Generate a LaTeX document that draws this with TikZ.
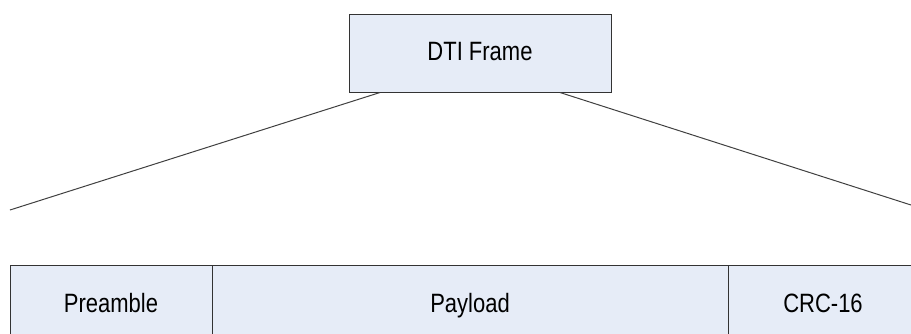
\documentclass[tikz,border=0pt]{standalone}
\usepackage{fontspec}
\setmainfont[FakeStretch=0.83]{Liberation Sans}
\begin{document}
\begin{tikzpicture}[x=1pt,y=-1pt,
  field/.style={draw=black!80, line width=1pt, fill=frameblue, inner sep=0pt,
    font=\fontsize{26.5}{30}\selectfont, text=black,
    text height=19pt, text depth=4pt},
  link/.style={draw=black!75, line width=1pt}]
\definecolor{frameblue}{HTML}{E6ECF7}
\useasboundingbox (0,0) rectangle (911,333);
\clip (0,0) rectangle (911,333);
% parent frame
\node[field, minimum width=262pt, minimum height=78pt] (dti) at (480,53) {DTI Frame};
% frame fields
\node[field, minimum width=202pt, minimum height=79pt] (pre) at (111,304.5) {Preamble};
\node[field, minimum width=516pt, minimum height=79pt] (pay) at (470,304.5) {Payload};
\node[field, minimum width=190pt, minimum height=79pt] (crc) at (823,304.5) {CRC-16};
% expansion lines
\coordinate (lend) at (10,210);
\coordinate (rend) at (911,205);
\draw[link] ([xshift=-100pt]dti.south) -- (lend);
\draw[link] ([xshift=80pt]dti.south) -- (rend);
\end{tikzpicture}
\end{document}
